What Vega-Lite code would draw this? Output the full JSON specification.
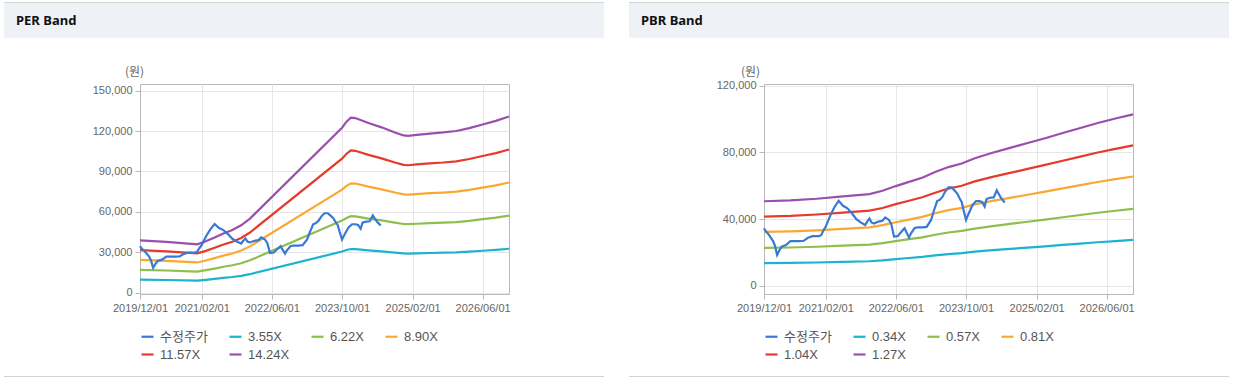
{
  "$schema": "https://vega.github.io/schema/vega-lite/v6.json",
  "background": "white",
  "padding": {"left": 4, "top": 2, "right": 0, "bottom": 0},
  "datasets": {
    "price": [
      {"d":"2019-12-01","v":34500},{"d":"2019-12-15","v":32500},{"d":"2020-01-01","v":31000},{"d":"2020-02-01","v":27000},
      {"d":"2020-02-15","v":24000},{"d":"2020-03-01","v":18500},{"d":"2020-03-15","v":21000},{"d":"2020-04-01","v":23500},
      {"d":"2020-05-01","v":24500},{"d":"2020-06-01","v":26800},{"d":"2020-08-01","v":26800},{"d":"2020-09-01","v":27000},
      {"d":"2020-10-01","v":28800},{"d":"2020-11-01","v":29800},{"d":"2020-12-15","v":29800},{"d":"2021-01-01","v":30500},
      {"d":"2021-01-15","v":33000},{"d":"2021-02-01","v":35500},{"d":"2021-03-01","v":41500},{"d":"2021-04-01","v":47000},
      {"d":"2021-05-01","v":51000},{"d":"2021-06-01","v":48000},{"d":"2021-07-01","v":46500},{"d":"2021-08-01","v":43500},
      {"d":"2021-09-01","v":40000},{"d":"2021-10-01","v":38000},{"d":"2021-11-01","v":36500},{"d":"2021-11-15","v":38500},
      {"d":"2021-12-01","v":40300},{"d":"2021-12-15","v":38000},{"d":"2022-01-01","v":37300},{"d":"2022-02-01","v":38500},
      {"d":"2022-03-01","v":39000},{"d":"2022-03-20","v":41000},{"d":"2022-04-15","v":39500},{"d":"2022-05-01","v":37000},
      {"d":"2022-05-20","v":29500},{"d":"2022-06-15","v":29800},{"d":"2022-07-01","v":31500},{"d":"2022-08-01","v":34500},
      {"d":"2022-08-15","v":32000},{"d":"2022-09-01","v":29000},{"d":"2022-09-15","v":31500},{"d":"2022-10-10","v":34700},
      {"d":"2022-11-01","v":35000},{"d":"2022-12-01","v":35000},{"d":"2023-01-01","v":35300},{"d":"2023-02-01","v":39500},
      {"d":"2023-02-20","v":45000},{"d":"2023-03-15","v":50800},{"d":"2023-04-01","v":51500},{"d":"2023-04-20","v":53300},
      {"d":"2023-05-10","v":56500},{"d":"2023-06-01","v":59000},{"d":"2023-06-25","v":59000},{"d":"2023-07-15","v":57000},
      {"d":"2023-08-01","v":55300},{"d":"2023-08-20","v":52000},{"d":"2023-09-01","v":50300},{"d":"2023-09-15","v":45000},
      {"d":"2023-10-01","v":39500},{"d":"2023-10-15","v":42500},{"d":"2023-11-01","v":45800},{"d":"2023-11-15","v":48500},
      {"d":"2023-12-10","v":50800},{"d":"2024-01-01","v":50800},{"d":"2024-01-20","v":50300},{"d":"2024-02-07","v":47500},
      {"d":"2024-02-20","v":52000},{"d":"2024-03-15","v":52800},{"d":"2024-04-10","v":53000},{"d":"2024-05-01","v":57300},
      {"d":"2024-05-12","v":55500},{"d":"2024-06-01","v":52500},{"d":"2024-06-25","v":50000}
    ],
    "per": [
      {"d":"2019-12-01","x1":9698,"x2":16992,"x3":24313,"x4":31606,"x5":38900},
      {"d":"2020-06-01","x1":9399,"x2":16467,"x3":23563,"x4":30631,"x5":37700},
      {"d":"2021-01-01","x1":8950,"x2":15681,"x3":22438,"x4":29169,"x5":35900},
      {"d":"2021-03-01","x1":9523,"x2":16686,"x3":23875,"x4":31038,"x5":38200},
      {"d":"2021-05-01","x1":10221,"x2":17909,"x3":25625,"x4":33313,"x5":41000},
      {"d":"2021-07-01","x1":10969,"x2":19219,"x3":27500,"x4":35750,"x5":44000},
      {"d":"2021-09-01","x1":11617,"x2":20355,"x3":29125,"x4":37863,"x5":46600},
      {"d":"2021-11-01","x1":12465,"x2":21840,"x3":31250,"x4":40625,"x5":50000},
      {"d":"2022-01-01","x1":13712,"x2":24024,"x3":34375,"x4":44688,"x5":55000},
      {"d":"2023-10-01","x1":30539,"x2":53508,"x3":76563,"x4":99531,"x5":122500},
      {"d":"2023-11-01","x1":31661,"x2":55474,"x3":79375,"x4":103188,"x5":127000},
      {"d":"2023-12-01","x1":32409,"x2":56784,"x3":81250,"x4":105625,"x5":130000},
      {"d":"2024-01-01","x1":32334,"x2":56653,"x3":81063,"x4":105381,"x5":129700},
      {"d":"2024-04-01","x1":31412,"x2":55037,"x3":78750,"x4":102375,"x5":126000},
      {"d":"2024-07-01","x1":30614,"x2":53639,"x3":76750,"x4":99775,"x5":122800},
      {"d":"2024-10-01","x1":29667,"x2":51979,"x3":74375,"x4":96688,"x5":119000},
      {"d":"2024-12-01","x1":29118,"x2":51018,"x3":73000,"x4":94900,"x5":116800},
      {"d":"2025-01-01","x1":29043,"x2":50887,"x3":72813,"x4":94656,"x5":116500},
      {"d":"2025-03-01","x1":29218,"x2":51193,"x3":73250,"x4":95225,"x5":117200},
      {"d":"2025-06-01","x1":29467,"x2":51630,"x3":73875,"x4":96038,"x5":118200},
      {"d":"2025-09-01","x1":29667,"x2":51979,"x3":74375,"x4":96688,"x5":119000},
      {"d":"2025-12-01","x1":29941,"x2":52460,"x3":75063,"x4":97581,"x5":120100},
      {"d":"2026-03-01","x1":30464,"x2":53377,"x3":76375,"x4":99288,"x5":122200},
      {"d":"2026-06-01","x1":31138,"x2":54556,"x3":78063,"x4":101481,"x5":124900},
      {"d":"2026-09-01","x1":31811,"x2":55736,"x3":79750,"x4":103675,"x5":127600},
      {"d":"2026-12-01","x1":32633,"x2":57177,"x3":81813,"x4":106356,"x5":130900}
    ],
    "pbr": [
      {"d":"2019-12-01","x1":13573,"x2":22754,"x3":32336,"x4":41518,"x5":50700},
      {"d":"2020-06-01","x1":13706,"x2":22979,"x3":32655,"x4":41928,"x5":51200},
      {"d":"2020-12-01","x1":13974,"x2":23427,"x3":33293,"x4":42747,"x5":52200},
      {"d":"2021-06-01","x1":14349,"x2":24056,"x3":34186,"x4":43893,"x5":53600},
      {"d":"2021-12-01","x1":14724,"x2":24684,"x3":35079,"x4":45040,"x5":55000},
      {"d":"2022-03-01","x1":15259,"x2":25582,"x3":36355,"x4":46677,"x5":57000},
      {"d":"2022-06-01","x1":16008,"x2":26838,"x3":38140,"x4":48970,"x5":59800},
      {"d":"2022-09-01","x1":16678,"x2":27960,"x3":39735,"x4":51017,"x5":62300},
      {"d":"2022-12-01","x1":17347,"x2":29082,"x3":41329,"x4":53065,"x5":64800},
      {"d":"2023-03-01","x1":18257,"x2":30608,"x3":43498,"x4":55849,"x5":68200},
      {"d":"2023-06-01","x1":19060,"x2":31955,"x3":45411,"x4":58306,"x5":71200},
      {"d":"2023-09-01","x1":19622,"x2":32897,"x3":46751,"x4":60025,"x5":73300},
      {"d":"2023-12-01","x1":20479,"x2":34333,"x3":48792,"x4":62646,"x5":76500},
      {"d":"2024-04-01","x1":21362,"x2":35814,"x3":50896,"x4":65348,"x5":79800},
      {"d":"2024-08-01","x1":22139,"x2":37116,"x3":52746,"x4":67723,"x5":82700},
      {"d":"2024-12-01","x1":22915,"x2":38417,"x3":54596,"x4":70098,"x5":85600},
      {"d":"2025-04-01","x1":23691,"x2":39719,"x3":56445,"x4":72473,"x5":88500},
      {"d":"2025-08-01","x1":24521,"x2":41110,"x3":58422,"x4":75011,"x5":91600},
      {"d":"2025-12-01","x1":25324,"x2":42456,"x3":60336,"x4":77468,"x5":94600},
      {"d":"2026-04-01","x1":26128,"x2":43803,"x3":62249,"x4":79925,"x5":97600},
      {"d":"2026-08-01","x1":26850,"x2":45015,"x3":63971,"x4":82136,"x5":100300},
      {"d":"2026-12-01","x1":27520,"x2":46137,"x3":65566,"x4":84183,"x5":102800}
    ]
  },
  "spacing": 25,
  "resolve": {"scale": {"color": "independent"}, "legend": {"color": "independent"}},
  "hconcat": [
    {
      "spacing": 13,
      "resolve": {"scale": {"color": "independent"}, "legend": {"color": "independent"}},
      "vconcat": [
        {
          "spacing": 26,
          "resolve": {"scale": {"color": "independent"}, "legend": {"color": "independent"}},
          "vconcat": [
            {
              "spacing": 0,
              "vconcat": [
                {
                  "width": 600, "height": 1,
                  "view": {"fill": "#d4d4d4", "stroke": null},
                  "data": {"values": [{}]},
                  "mark": {"type": "point", "opacity": 0, "size": 0, "strokeWidth": 0},
                  "encoding": {}
                },
                {
                  "width": 600, "height": 35,
                  "view": {"fill": "#eef2f7", "stroke": null},
                  "data": {"values": [{}]},
                  "mark": {"type": "point", "opacity": 0, "size": 0, "strokeWidth": 0},
                  "encoding": {},
                  "title": {"text": "PER Band", "anchor": "start", "orient": "top", "offset": 0, "dx": 12, "dy": 31, "baseline": "middle", "font": "Noto Sans", "fontSize": 13, "fontWeight": "bold", "color": "#111111"}
                }
              ]
            },
            {
              "spacing": 0,
              "resolve": {"scale": {"color": "independent"}, "legend": {"color": "independent"}},
              "hconcat": [
                {
                  "width": 1, "height": 1,
                  "view": {"stroke": null},
                  "data": {"values": [{}]},
                  "mark": {"type": "point", "opacity": 0, "size": 0, "strokeWidth": 0},
                  "encoding": {}
                },
                {
                  "width": 369, "height": 210,
                  "data": {"name": "per"},
                  "encoding": {
                    "x": {"field": "d", "type": "temporal",
                      "scale": {"domain": [{"year": 2019, "month": 12, "date": 1}, {"year": 2026, "month": 12, "date": 1}], "nice": false},
                      "axis": {"values": [{"year": 2019, "month": 12, "date": 1}, {"year": 2021, "month": 2, "date": 1}, {"year": 2022, "month": 6, "date": 1}, {"year": 2023, "month": 10, "date": 1}, {"year": 2025, "month": 2, "date": 1}, {"year": 2026, "month": 6, "date": 1}], "format": "%Y/%m/%d", "title": null, "labelFlush": false, "labelOverlap": false}}
                  },
                  "layer": [
                    {"mark": "line",
                     "encoding": {
                       "y": {"field": "x1", "type": "quantitative", "title": "(원)",
                         "scale": {"domain": [-1000, 155000], "nice": false, "zero": false},
                         "axis": {"values": [0, 30000, 60000, 90000, 120000, 150000], "labelExpr": "format(datum.value, ',')", "minExtent": 134, "titleAngle": 0, "titleX": -6, "titleY": -13, "titleAlign": "center", "titleBaseline": "middle", "titleFont": "Noto Sans CJK KR", "titleFontSize": 12, "titleFontWeight": "normal", "titleColor": "#666666"}},
                       "color": {"datum": "3.55X", "type": "nominal",
                         "scale": {"domain": ["수정주가", "3.55X", "6.22X", "8.90X", "11.57X", "14.24X"], "range": ["#3779d4", "#1ab3d0", "#8dbf4c", "#f9a832", "#e53a2c", "#9a4fae"]},
                         "legend": {"title": null}}
                     }},
                    {"mark": "line", "encoding": {"y": {"field": "x2", "type": "quantitative", "title": "(원)"}, "color": {"datum": "6.22X", "type": "nominal"}}},
                    {"mark": "line", "encoding": {"y": {"field": "x3", "type": "quantitative", "title": "(원)"}, "color": {"datum": "8.90X", "type": "nominal"}}},
                    {"mark": "line", "encoding": {"y": {"field": "x4", "type": "quantitative", "title": "(원)"}, "color": {"datum": "11.57X", "type": "nominal"}}},
                    {"mark": "line", "encoding": {"y": {"field": "x5", "type": "quantitative", "title": "(원)"}, "color": {"datum": "14.24X", "type": "nominal"}}},
                    {"data": {"name": "price"}, "mark": "line", "encoding": {"y": {"field": "v", "type": "quantitative", "title": "(원)"}, "color": {"datum": "수정주가", "type": "nominal"}}}
                  ]
                }
              ]
            }
          ]
        },
        {
          "width": 600, "height": 1,
          "view": {"fill": "#d2d2d2", "stroke": null},
          "data": {"values": [{}]},
          "mark": {"type": "point", "opacity": 0, "size": 0, "strokeWidth": 0},
          "encoding": {}
        }
      ]
    },
    {
      "spacing": 13,
      "resolve": {"scale": {"color": "independent"}, "legend": {"color": "independent"}},
      "vconcat": [
        {
          "spacing": 26,
          "resolve": {"scale": {"color": "independent"}, "legend": {"color": "independent"}},
          "vconcat": [
            {
              "spacing": 0,
              "vconcat": [
                {
                  "width": 600, "height": 1,
                  "view": {"fill": "#d4d4d4", "stroke": null},
                  "data": {"values": [{}]},
                  "mark": {"type": "point", "opacity": 0, "size": 0, "strokeWidth": 0},
                  "encoding": {}
                },
                {
                  "width": 600, "height": 35,
                  "view": {"fill": "#eef2f7", "stroke": null},
                  "data": {"values": [{}]},
                  "mark": {"type": "point", "opacity": 0, "size": 0, "strokeWidth": 0},
                  "encoding": {},
                  "title": {"text": "PBR Band", "anchor": "start", "orient": "top", "offset": 0, "dx": 12, "dy": 31, "baseline": "middle", "font": "Noto Sans", "fontSize": 13, "fontWeight": "bold", "color": "#111111"}
                }
              ]
            },
            {
              "spacing": 0,
              "resolve": {"scale": {"color": "independent"}, "legend": {"color": "independent"}},
              "hconcat": [
                {
                  "width": 1, "height": 1,
                  "view": {"stroke": null},
                  "data": {"values": [{}]},
                  "mark": {"type": "point", "opacity": 0, "size": 0, "strokeWidth": 0},
                  "encoding": {}
                },
                {
                  "width": 369, "height": 210,
                  "data": {"name": "pbr"},
                  "encoding": {
                    "x": {"field": "d", "type": "temporal",
                      "scale": {"domain": [{"year": 2019, "month": 12, "date": 1}, {"year": 2026, "month": 12, "date": 1}], "nice": false},
                      "axis": {"values": [{"year": 2019, "month": 12, "date": 1}, {"year": 2021, "month": 2, "date": 1}, {"year": 2022, "month": 6, "date": 1}, {"year": 2023, "month": 10, "date": 1}, {"year": 2025, "month": 2, "date": 1}, {"year": 2026, "month": 6, "date": 1}], "format": "%Y/%m/%d", "title": null, "labelFlush": false, "labelOverlap": false}}
                  },
                  "layer": [
                    {"mark": "line",
                     "encoding": {
                       "y": {"field": "x1", "type": "quantitative", "title": "(원)",
                         "scale": {"domain": [-4900, 121000], "nice": false, "zero": false},
                         "axis": {"values": [0, 20000, 40000, 60000, 80000, 100000, 120000], "labelExpr": "format(datum.value, ',')", "minExtent": 133, "titleAngle": 0, "titleX": -14, "titleY": -13, "titleAlign": "center", "titleBaseline": "middle", "titleFont": "Noto Sans CJK KR", "titleFontSize": 12, "titleFontWeight": "normal", "titleColor": "#666666"}},
                       "color": {"datum": "0.34X", "type": "nominal",
                         "scale": {"domain": ["수정주가", "0.34X", "0.57X", "0.81X", "1.04X", "1.27X"], "range": ["#3779d4", "#1ab3d0", "#8dbf4c", "#f9a832", "#e53a2c", "#9a4fae"]},
                         "legend": {"title": null}}
                     }},
                    {"mark": "line", "encoding": {"y": {"field": "x2", "type": "quantitative", "title": "(원)"}, "color": {"datum": "0.57X", "type": "nominal"}}},
                    {"mark": "line", "encoding": {"y": {"field": "x3", "type": "quantitative", "title": "(원)"}, "color": {"datum": "0.81X", "type": "nominal"}}},
                    {"mark": "line", "encoding": {"y": {"field": "x4", "type": "quantitative", "title": "(원)"}, "color": {"datum": "1.04X", "type": "nominal"}}},
                    {"mark": "line", "encoding": {"y": {"field": "x5", "type": "quantitative", "title": "(원)"}, "color": {"datum": "1.27X", "type": "nominal"}}},
                    {"data": {"name": "price"}, "mark": "line", "encoding": {"y": {"field": "v", "type": "quantitative", "title": "(원)"}, "color": {"datum": "수정주가", "type": "nominal"}}}
                  ]
                }
              ]
            }
          ]
        },
        {
          "width": 600, "height": 1,
          "view": {"fill": "#d2d2d2", "stroke": null},
          "data": {"values": [{}]},
          "mark": {"type": "point", "opacity": 0, "size": 0, "strokeWidth": 0},
          "encoding": {}
        }
      ]
    }
  ],
  "config": {
    "view": {"stroke": "#b8b8b8"},
    "line": {"strokeWidth": 2.2},
    "axis": {"labelFont": "Liberation Sans", "labelFontSize": 11, "labelColor": "#666666", "gridColor": "#e6e6e6", "domainColor": "#b8b8b8", "tickColor": "#b8b8b8", "tickSize": 5, "labelPadding": 3},
    "legend": {"orient": "bottom", "direction": "horizontal", "columns": 4, "symbolType": "stroke", "symbolSize": 144, "symbolStrokeWidth": 2.5, "labelFont": "Liberation Sans, Noto Sans CJK KR", "labelFontSize": 13, "labelColor": "#555555", "columnPadding": 17, "rowPadding": 3, "labelOffset": 5, "offset": 16, "padding": 0, "gridAlign": "each"}
  }
}
